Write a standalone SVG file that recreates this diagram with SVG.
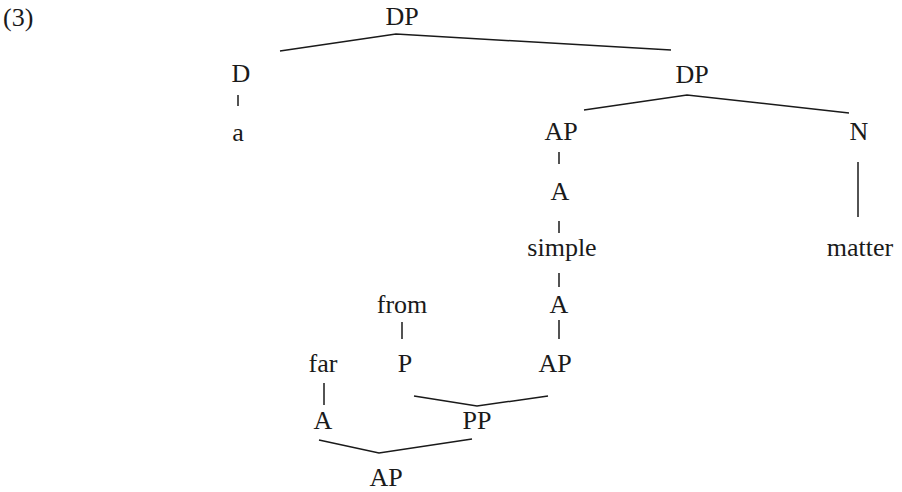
<svg xmlns="http://www.w3.org/2000/svg" width="902" height="492" viewBox="0 0 902 492">
<style>
text{font-size:26px;fill:#1a1a1a;text-anchor:middle}
.e line,.e polyline{stroke:#1a1a1a;stroke-width:1.5;fill:none}
</style>
<rect width="902" height="492" fill="#fff"/>
<g font-family="'Liberation Serif', 'Times New Roman', serif">
<text x="3" y="26" style="text-anchor:start">(3)</text>
<g class="e" id="edges">
<polyline points="280,51 396,34 671,50"/>
<line x1="238" y1="95" x2="238" y2="106"/>
<polyline points="584,110 687,95 849,113"/>
<line x1="559" y1="152" x2="559" y2="164"/>
<line x1="559" y1="221" x2="559" y2="233"/>
<line x1="559" y1="273" x2="559" y2="287"/>
<line x1="858" y1="162" x2="858" y2="217"/>
<line x1="402" y1="322" x2="402" y2="339"/>
<line x1="559" y1="320" x2="559" y2="339"/>
<line x1="324" y1="383" x2="324" y2="405"/>
<polyline points="414,396 477,406 548,396"/>
<polyline points="319,440 379,453 472,439"/>
</g>
<g id="n-dp1"><text x="402" y="25">DP</text></g>
<g id="n-d"><text x="241" y="82">D</text></g>
<g id="n-a"><text x="238" y="141">a</text></g>
<g id="n-dp2"><text x="692" y="83">DP</text></g>
<g id="n-ap1"><text x="561" y="140">AP</text></g>
<g id="n-n"><text x="859" y="140">N</text></g>
<g id="n-a1"><text x="560" y="200">A</text></g>
<g id="n-simple"><text x="562" y="256">simple</text></g>
<g id="n-matter"><text x="860" y="256">matter</text></g>
<g id="n-from"><text x="402" y="313">from</text></g>
<g id="n-a2"><text x="559" y="313">A</text></g>
<g id="n-far"><text x="323" y="372">far</text></g>
<g id="n-p"><text x="405" y="372">P</text></g>
<g id="n-ap2"><text x="555" y="372">AP</text></g>
<g id="n-a3"><text x="323" y="429">A</text></g>
<g id="n-pp"><text x="477" y="429">PP</text></g>
<g id="n-ap3"><text x="386" y="486">AP</text></g>
</g>
</svg>
